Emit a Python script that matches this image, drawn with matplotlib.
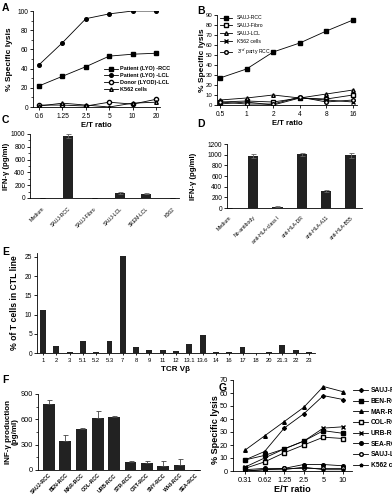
import numpy as np
import matplotlib
matplotlib.use('Agg')
import matplotlib.pyplot as plt

plt.rcParams['font.family'] = ['Liberation Sans', 'DejaVu Sans']
plt.rcParams['font.size'] = 4.8
plt.rcParams['axes.linewidth'] = 0.6
plt.rcParams['xtick.major.width'] = 0.6
plt.rcParams['ytick.major.width'] = 0.6
plt.rcParams['xtick.major.size'] = 2
plt.rcParams['ytick.major.size'] = 2
plt.rcParams['xtick.major.pad'] = 2
plt.rcParams['ytick.major.pad'] = 1.5
plt.rcParams['xtick.labelsize'] = 4.8
plt.rcParams['ytick.labelsize'] = 4.8

# ---- data ----
a_ratio = ['0.6', '1.25', '2.5', '5', '10', '20']
a_rcc = [22, 32, 42, 53, 55, 56]
a_lcl = [44, 67, 92, 97, 100, 100]
a_donor = [2, 2, 1, 5, 3, 8]
a_k562 = [1, 4, 2, 0, 4, 5]

b_ratio = ['0.5', '1', '2', '4', '8', '16']
b_rcc = [27, 36, 53, 62, 74, 85]
b_fibro = [3, 4, 3, 7, 6, 10]
b_lcl = [5, 7, 10, 7, 11, 15]
b_k562 = [1, 3, 0, 7, 5, 3]
b_third = [3, 1, 1, 8, 3, 5]

c_names = ['Medium', 'SAUJ-RCC', 'SAUJ-Fibro', 'SAUJ-LCL', 'SKEM-LCL', 'K562']
c_vals = [0, 970, 0, 75, 70, 0]
c_err = [0, 25, 0, 15, 15, 0]

d_names = ['Medium', 'No-antibody', 'anti-HLA-class I', 'anti-HLA-DR',
           'anti-HLA-A11', 'anti-HLA-B55']
d_vals = [0, 975, 25, 1010, 320, 990]
d_err = [0, 40, 10, 30, 20, 50]

e_names = ['1', '2', '3', '5.1', '5.2', '5.3', '7', '8', '9', '11', '12', '13.1',
           '13.6', '14', '16', '17', '18', '20', '21.3', '22', '23']
e_vals = [11.2, 1.8, 0.3, 3.2, 0.3, 3.0, 25.3, 1.6, 0.7, 0.7, 0.6, 2.3,
          4.8, 0.3, 0.3, 1.6, 0, 0.3, 2.0, 0.9, 0.3]

f_names = ['SAUJ-RCC', 'BEN-RCC', 'MAR-RCC', 'COL-RCC', 'URB-RCC', 'STR-RCC',
           'ORT-RCC', 'SNY-RCC', 'WHI-RCC', 'SEA-RCC']
f_vals = [780, 345, 480, 615, 625, 95, 85, 50, 65, 0]
f_err = [50, 70, 15, 80, 20, 15, 25, 55, 60, 0]

g_ratio = ['0.31', '0.62', '1.25', '2.5', '5', '10']
g_sauj = [8.5, 15, 33, 44, 58, 55]
g_ben = [8.5, 12, 17, 23, 31, 29]
g_mar = [16, 27, 38, 49, 65, 61]
g_col = [2, 7, 14, 20, 26, 25]
g_urb = [3, 10, 17, 23, 33, 34]
g_sea = [1, 2, 2, 5, 5, 4]
g_saujlcl = [0, 1, 2, 2, 2, 2]
g_k562 = [0, 1, 1, 3, 1, 1]

W, H = 392, 497
fig = plt.figure(figsize=(W / 100, H / 100), dpi=100)


def box(x0, y0, x1, y1):
    # pixel box -> figure fraction
    return [x0 / W, 1 - y1 / H, (x1 - x0) / W, (y1 - y0) / H]


def clean(ax):
    ax.spines['top'].set_visible(False)
    ax.spines['right'].set_visible(False)


def ylab(ax, text, px, size=5.5, ypos=0.5):
    # px: pixel x of the label centre
    ax.set_ylabel(text, fontsize=size, fontweight='bold', linespacing=1.0)
    x0 = ax.get_position().x0 * W
    w = ax.get_position().width * W
    ax.yaxis.set_label_coords((px + 3 - x0) / w, ypos)


lw = 0.6
ms = 2.6
bar_col = '#222222'

# ---- A ----
ax = fig.add_axes(box(33, 11, 160, 107))
x = range(len(a_ratio))
ax.plot(x, a_rcc, 'k-', marker='s', ms=ms, lw=lw, label='Patient (LYO) -RCC')
ax.plot(x, a_lcl, 'k-', marker='o', ms=ms, lw=lw, label='Patient (LYO) -LCL')
ax.plot(x, a_donor, 'k-', marker='o', mfc='white', ms=ms + 0.4, lw=lw, label='Donor (LYOD)-LCL')
ax.plot(x, a_k562, 'k-', marker='^', mfc='white', ms=ms, lw=lw, label='K562 cells')
ax.set_xticks(list(x), a_ratio)
ax.set_xlim(-0.26, 5.17)
ax.set_ylim(0, 100)
ax.set_yticks([0, 20, 40, 60, 80, 100])
ax.set_yticks([10, 30, 50, 70, 90], minor=True)
ax.tick_params(which='minor', length=1.2, width=0.5)
ylab(ax, '% Specific lysis', 10, size=6.0)
ax.set_xlabel('E/T ratio', labelpad=1.5, fontsize=5.5, fontweight='bold')
ax.legend(loc='lower right', bbox_to_anchor=(1.1, 0.13), frameon=False,
          handlelength=2.4, labelspacing=0.35, borderaxespad=0, handletextpad=0.5,
          prop={'weight': 'bold', 'size': 4.0})
clean(ax)

# ---- B ----
ax = fig.add_axes(box(217, 15, 357, 105))
x = range(len(b_ratio))
ax.plot(x, b_rcc, 'k-', marker='s', ms=ms, lw=lw, label='SAUJ-RCC')
ax.plot(x, b_fibro, 'k-', marker='s', mfc='white', ms=ms, lw=lw, label='SAUJ-Fibro')
ax.plot(x, b_lcl, 'k-', marker='^', mfc='white', ms=ms, lw=lw, label='SAUJ-LCL')
ax.plot(x, b_k562, 'k-', marker='x', ms=ms, lw=lw, label='K562 cells')
ax.plot(x, b_third, 'k-', marker='o', mfc='white', ms=ms, lw=lw, label='3$^{rd}$ party RCC')
ax.set_xticks(list(x), b_ratio)
ax.set_xlim(-0.11, 5.15)
ax.set_ylim(0, 90)
ax.set_yticks(range(0, 91, 10))
ax.tick_params(axis='y', labelsize=4.3)
ylab(ax, '% Specific lysis', 203, size=6.0)
ax.set_xlabel('E/T ratio', labelpad=1.5, fontsize=5.5, fontweight='bold')
ax.legend(loc='upper left', bbox_to_anchor=(0.0, 1.03), frameon=False,
          handlelength=2.4, labelspacing=0.55, borderaxespad=0.2, prop={'size': 3.7})
clean(ax)

# ---- C ----
ax = fig.add_axes(box(30, 134, 179, 198))
x = np.arange(len(c_names))
ax.bar(x, c_vals, width=0.42, color=bar_col, yerr=c_err,
       error_kw=dict(ecolor='#666666', elinewidth=0.6, capsize=1.8, capthick=0.6))
ax.set_xticks(x, c_names, rotation=45, ha='right', rotation_mode='anchor', fontsize=3.7)
ax.tick_params(axis='x', length=0, pad=6)
ax.set_xlim(-0.46, 5.27)
ax.set_ylim(0, 1000)
ax.set_yticks(range(0, 1001, 200))
ax.set_yticks(range(100, 1000, 200), minor=True)
ax.tick_params(which='minor', length=1.2, width=0.5)
ylab(ax, 'IFN-\u03b3 (pg/ml)', 7, size=5.6)
clean(ax)

# ---- D ----
ax = fig.add_axes(box(227, 144, 362, 208))
x = np.arange(len(d_names))
ax.bar(x, d_vals, width=0.42, color=bar_col, yerr=d_err,
       error_kw=dict(ecolor='#666666', elinewidth=0.6, capsize=1.8, capthick=0.6))
ax.set_xticks(x, d_names, rotation=45, ha='right', rotation_mode='anchor', fontsize=3.7)
ax.tick_params(axis='x', length=0, pad=5)
ax.set_xlim(-0.07, 5.47)
ax.set_ylim(0, 1200)
ax.set_yticks(range(0, 1201, 200))
ylab(ax, 'IFN-\u03b3 (pg/ml)', 194, size=5.6)
clean(ax)

# ---- E ----
ax = fig.add_axes(box(37, 253, 315, 353))
x = np.arange(len(e_names))
ax.bar(x, e_vals, width=0.45, color=bar_col)
ax.set_xticks(x, e_names, fontsize=4.2)
ax.tick_params(axis='x', length=1.5)
ax.set_xlim(-0.45, 20.45)
ax.set_ylim(0, 26)
ax.set_yticks([0, 5, 10, 15, 20, 25])
ylab(ax, '% of T cells in CTL line', 16, size=6.2)
ax.set_xlabel('TCR V\u03b2', labelpad=2, fontsize=5.8, fontweight='bold')
clean(ax)

# ---- F ----
ax = fig.add_axes(box(38, 394, 200, 470))
x = np.arange(len(f_names))
ax.bar(x, f_vals, width=0.72, color=bar_col, yerr=[np.zeros(len(f_err)), f_err],
       error_kw=dict(ecolor='#444444', elinewidth=0.6, capsize=1.8, capthick=0.6))
ax.set_xticks(x, f_names, rotation=45, ha='right', rotation_mode='anchor',
              fontsize=3.7, fontweight='bold')
ax.tick_params(axis='x', length=0, pad=2)
ax.set_xlim(-0.67, 9.25)
ax.set_ylim(0, 900)
ax.set_yticks([0, 300, 600, 900])
ax.set_yticks([150, 450, 750], minor=True)
ax.tick_params(which='minor', length=1.2, width=0.5)
ax.tick_params(axis='y', labelsize=5.3)
ylab(ax, 'INF-\u03b3 production\n(pg/ml)', 16, size=5.8)
clean(ax)

# ---- G ----
ax = fig.add_axes(box(233, 380, 352, 471))
x = range(len(g_ratio))
ax.plot(x, g_sauj, 'k-', marker='D', ms=2.0, lw=lw, label='SAUJ-RCC')
ax.plot(x, g_ben, 'k-', marker='s', ms=ms, lw=lw, label='BEN-RCC')
ax.plot(x, g_mar, 'k-', marker='^', ms=ms, lw=lw, label='MAR-RCC')
ax.plot(x, g_col, 'k-', marker='s', mfc='white', ms=2.2, lw=lw, label='COL-RCC')
ax.plot(x, g_urb, 'k-', marker='x', ms=ms, lw=lw, label='URB-RCC')
ax.plot(x, g_sea, 'k-', marker='o', ms=ms, lw=lw, label='SEA-RCC')
ax.plot(x, g_saujlcl, 'k-', marker='o', mfc='white', ms=ms, lw=lw, label='SAUJ-LCL')
ax.plot(x, g_k562, 'k-', marker='*', mfc='white', ms=ms, lw=lw, label='K562 cells')
ax.set_xticks(list(x), g_ratio)
ax.set_xlim(-0.61, 5.46)
ax.set_ylim(0, 70)
ax.set_yticks(range(0, 71, 10))
ax.tick_params(labelsize=5.3)
ylab(ax, '% Specific lysis', 217, size=6.6, ypos=0.46)
ax.set_xlabel('E/T ratio', labelpad=1, fontsize=6.6, fontweight='bold')
ax.legend(loc='upper left', bbox_to_anchor=(0.99, 0.95), frameon=False,
          handlelength=2.2, labelspacing=0.55, borderaxespad=0.0, handletextpad=0.4,
          prop={'size': 4.8, 'weight': 'bold'})
clean(ax)

# panel letters
for letter, (px, py) in {'A': (2, 11), 'B': (197, 14), 'C': (2, 123), 'D': (197, 127),
                          'E': (2, 255), 'F': (2, 383), 'G': (219, 391)}.items():
    fig.text(px / W, 1 - py / H, letter, fontsize=7.5, fontweight='bold')

fig.savefig('out.png', dpi=100)
